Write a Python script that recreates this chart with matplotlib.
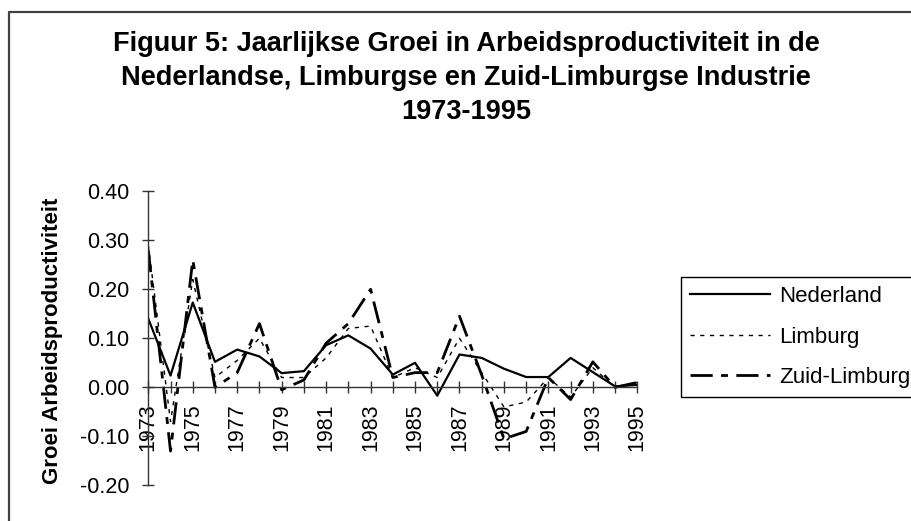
import matplotlib
matplotlib.use("Agg")
import matplotlib.pyplot as plt
from matplotlib.lines import Line2D

plt.rcParams['font.family'] = ['Liberation Sans', 'DejaVu Sans']

years = list(range(1973, 1996))
nederland = [0.140, 0.024, 0.173, 0.052, 0.077, 0.063, 0.029, 0.033, 0.086, 0.106,
             0.079, 0.026, 0.050, -0.017, 0.067, 0.060, 0.038, 0.021, 0.021, 0.060,
             0.031, 0.002, 0.005]
limburg = [0.290, -0.070, 0.220, 0.020, 0.055, 0.100, 0.020, 0.020, 0.060, 0.120,
           0.125, 0.020, 0.040, 0.020, 0.100, 0.030, -0.040, -0.030, 0.020, -0.020,
           0.040, 0.000, 0.010]
zuid_limburg = [0.280, -0.130, 0.260, 0.000, 0.030, 0.130, -0.005, 0.015, 0.090, 0.130,
                0.200, 0.020, 0.030, 0.030, 0.145, 0.025, -0.105, -0.090, 0.020, -0.025,
                0.052, 0.000, 0.010]
series_names = ['Nederland', 'Limburg', 'Zuid-Limburg']
yticks = [-0.20, -0.10, 0.00, 0.10, 0.20, 0.30, 0.40]
title_lines = ['Figuur 5: Jaarlijkse Groei in Arbeidsproductiviteit in de',
               'Nederlandse, Limburgse en Zuid-Limburgse Industrie',
               '1973-1995']
ylabel = 'Groei Arbeidsproductiviteit'

W, H = 912, 521
fig = plt.figure(figsize=(W / 100, H / 100), dpi=100)

# outer chart border (left and top visible)
fig.add_artist(Line2D([9 / W, 9 / W, 1.0], [0.0, 1 - 12 / H, 1 - 12 / H],
                      transform=fig.transFigure, color='#404040', lw=1.6))

# title
for line, yc in zip(title_lines, [44, 78, 112]):
    fig.text(466 / W, 1 - yc / H, line, ha='center', va='center',
             fontsize=19.5, fontweight='bold')

ax = fig.add_axes([148.3 / W, 1 - 485.4 / H, (637.3 - 148.3) / W, (485.4 - 191.2) / H])
ax.set_facecolor('none')

l1, = ax.plot(years, nederland, color='black', lw=1.6, ls='-', label=series_names[0])
l2, = ax.plot(years, limburg, color='black', lw=1.0, ls=(0, (3, 4)), label=series_names[1])
l3, = ax.plot(years, zuid_limburg, color='black', lw=2.0, ls=(0, (8, 3, 2.5, 3)),
              label=series_names[2])

ax.set_xlim(1973, 1995)
ax.set_ylim(-0.2, 0.4)
for s in ['top', 'right']:
    ax.spines[s].set_visible(False)
ax.spines['bottom'].set_position(('data', 0))
ax.spines['bottom'].set_color('#333333')
ax.spines['left'].set_color('#333333')
ax.spines['bottom'].set_linewidth(1.0)
ax.spines['left'].set_linewidth(1.0)

ax.set_yticks(yticks)
ax.set_yticklabels([f'{v:.2f}' for v in yticks])
ax.set_xticks(years)
ax.set_xticklabels([str(y) if (y - 1973) % 2 == 0 else '' for y in years], rotation=90)
ax.tick_params(axis='both', direction='inout', length=9, width=1.0, color='#333333',
               labelsize=15.5)
ax.tick_params(axis='x', pad=7)
ax.tick_params(axis='y', pad=9)

fig.text(53 / W, 1 - 341 / H, ylabel, rotation=90, ha='center', va='center',
         fontsize=16, fontweight='bold')

leg = fig.legend(handles=[l1, l2, l3], loc='upper left',
                 bbox_to_anchor=(680.7 / W, 1 - 276.7 / H), bbox_transform=fig.transFigure,
                 fontsize=16, frameon=True, fancybox=False, framealpha=1,
                 edgecolor='black', handlelength=3.6, handletextpad=0.4,
                 labelspacing=0.88, borderpad=0.42, borderaxespad=0)
leg.get_frame().set_linewidth(1.0)

fig.savefig('out.png', dpi=100)
